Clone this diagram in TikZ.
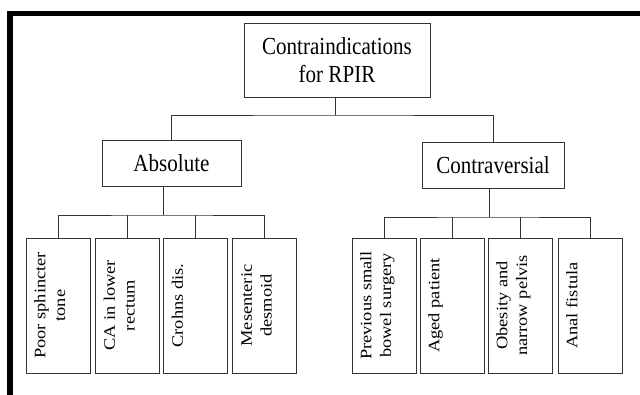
\documentclass[tikz,border=0pt]{standalone}
\usepackage{fontspec}
\usepackage{graphicx}
\setmainfont{Liberation Serif}
\newfontfamily\hfont{Liberation Serif}[FakeStretch=0.86]
\newcommand{\vtext}[1]{\scalebox{1}[0.87]{\begin{tabular}{@{}c@{}}#1\end{tabular}}}
\begin{document}
\begin{tikzpicture}[x=1pt,y=-1pt,
  box/.style={draw=black!80, line width=0.9pt, inner sep=0pt},
  topbox/.style={box, align=center, font=\hfont\fontsize{24.5}{28}\selectfont},
  leaf/.style={box, minimum width=64pt, minimum height=135pt},
  leaftext/.style={rotate=90, anchor=north, inner sep=0pt, font=\fontsize{18.4}{22.5}\selectfont},
  conn/.style={draw=black!80, line width=0.9pt}]
\path[use as bounding box] (0,0) rectangle (640,395);
% frame
\fill[black] (7,11) rectangle (640,16);
\fill[black] (7,11) rectangle (13,395);
% top levels
\node[topbox, minimum width=186pt, minimum height=74pt] (root) at (337,60) {Contraindications\\for RPIR};
\node[topbox, minimum width=139pt, minimum height=46pt] (abs) at (171.5,163) {Absolute};
\node[topbox, minimum width=142pt, minimum height=46pt] (con) at (493,165) {Contraversial};
% leaves
\node[leaf] (c1) at (58,305.5) {};
\node[leaf] (c2) at (127.5,305.5) {};
\node[leaf] (c3) at (195.5,305.5) {};
\node[leaf] (c4) at (264.5,305.5) {};
\node[leaf] (c5) at (384,305.5) {};
\node[leaf] (c6) at (452,305.5) {};
\node[leaf] (c7) at (520,305.5) {};
\node[leaf] (c8) at (590,305.5) {};
\node[leaftext] (t1) at ([xshift=6pt]c1.west) {\vtext{Poor sphincter\\tone}};
\node[leaftext] (t2) at ([xshift=6pt]c2.west) {\vtext{CA in lower\\rectum}};
\node[leaftext] (t3) at ([xshift=6pt]c3.west) {\vtext{Crohns dis.}};
\node[leaftext] (t4) at ([xshift=6pt]c4.west) {\vtext{Mesenteric\\desmoid}};
\node[leaftext] (t5) at ([xshift=6pt]c5.west) {\vtext{Previous small\\bowel surgery}};
\node[leaftext] (t6) at ([xshift=6pt]c6.west) {\vtext{Aged patient}};
\node[leaftext] (t7) at ([xshift=6pt]c7.west) {\vtext{Obesity and\\narrow pelvis}};
\node[leaftext] (t8) at ([xshift=6pt]c8.west) {\vtext{Anal fistula}};
% connectors
\coordinate (b0) at (335,115);
\coordinate (b1) at (163,215);
\coordinate (b2) at (489,217);
\draw[conn] (b0 |- root.south) -- (b0);
\draw[conn] (abs.north) |- (b0) -| (con.north);
\draw[conn] (b1 |- abs.south) -- (b1);
\draw[conn] (c1.north) |- (b1) -| (c4.north);
\draw[conn] (c2.north) -- (c2.north |- b1);
\draw[conn] (c3.north) -- (c3.north |- b1);
\draw[conn] (b2 |- con.south) -- (b2);
\draw[conn] (c5.north) |- (b2) -| (c8.north);
\draw[conn] (c6.north) -- (c6.north |- b2);
\draw[conn] (c7.north) -- (c7.north |- b2);
\end{tikzpicture}
\end{document}
